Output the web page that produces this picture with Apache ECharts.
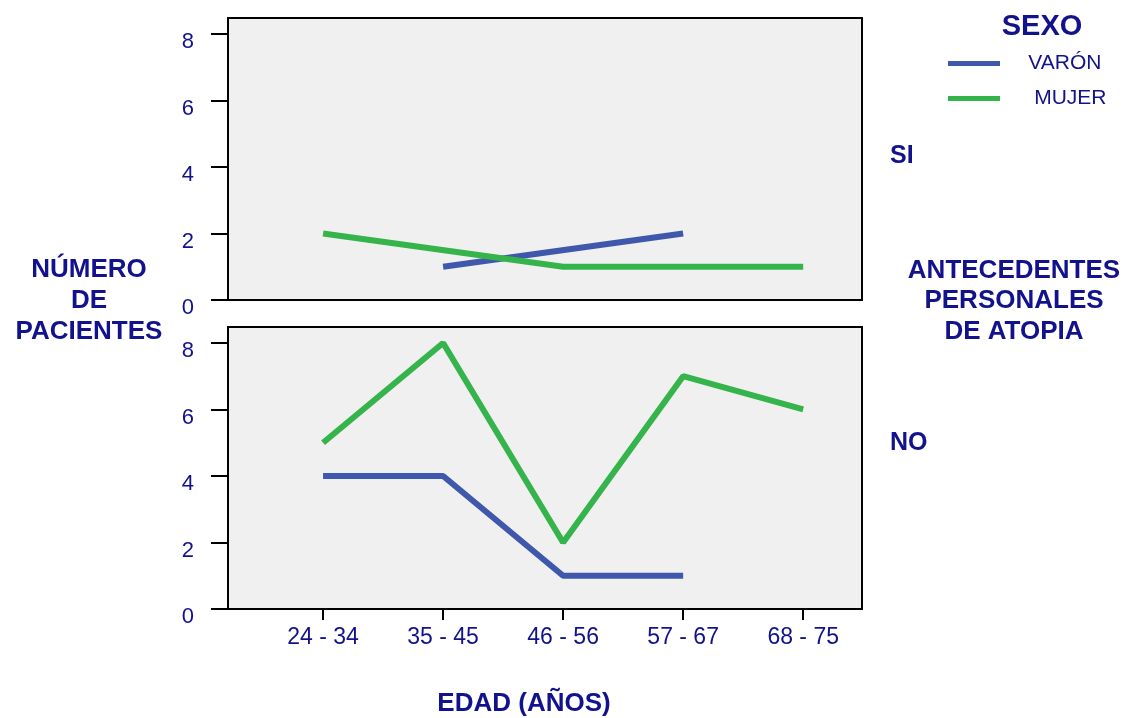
<!DOCTYPE html>
<html>
<head>
<meta charset="utf-8">
<script src="https://cdn.jsdelivr.net/npm/echarts@6/dist/echarts.min.js"></script>
<style>html,body{margin:0;padding:0;background:#fff}#c{width:1130px;height:718px}</style>
</head>
<body>
<div id="c"></div>
<script>
const categories = ['24 - 34', '35 - 45', '46 - 56', '57 - 67', '68 - 75'];
const yTicks = [0, 2, 4, 6, 8];
// Antecedentes personales de atopia = SI
const siVaron = [null, 1, null, 2, null];
const siMujer = [2, null, 1, 1, 1];
// Antecedentes personales de atopia = NO
const noVaron = [4, 4, 1, 1, null];
const noMujer = [5, 8, 2, 7, 6];

const NAVY = '#12128C';
const BLUE = '#3F58AB';
const GREEN = '#34B44A';
const FONT = '"Liberation Sans", Arial, sans-serif';

const toPts = arr => arr.map((v, i) => [i + 1, v]);
const xPositions = categories.map((c, i) => i + 1);

const chart = echarts.init(document.getElementById('c'), null, {renderer: 'canvas'});

const gridCommon = {left: 228, width: 634, height: 282, show: true, backgroundColor: '#F0F0F0', borderColor: '#000', borderWidth: 2, containLabel: false};

const yAxisCommon = {
  type: 'value', min: 0, max: 8.48,
  axisLine: {show: true, lineStyle: {color: '#000', width: 2}},
  axisTick: {show: true, inside: false, length: 17, lineStyle: {color: '#000', width: 2}, customValues: yTicks},
  axisLabel: {show: true, color: NAVY, fontSize: 22, fontFamily: FONT, margin: 34, verticalAlign: 'top', lineHeight: 16, customValues: yTicks},
  splitLine: {show: false}
};

const xAxisCommon = {
  type: 'value', min: 0.208, max: 5.49,
  splitLine: {show: false}
};

function lineSeries(name, data, color, idx) {
  return {
    name: name, type: 'line', xAxisIndex: idx, yAxisIndex: idx,
    data: toPts(data), connectNulls: true, symbol: 'none',
    lineStyle: {color: color, width: 6}, itemStyle: {color: color},
    silent: true, animation: false
  };
}

const option = {
  animation: false,
  backgroundColor: '#fff',
  grid: [
    Object.assign({top: 18}, gridCommon),
    Object.assign({top: 327}, gridCommon)
  ],
  xAxis: [
    Object.assign({gridIndex: 0, axisLine: {show: false}, axisTick: {show: false}, axisLabel: {show: false}}, xAxisCommon),
    Object.assign({gridIndex: 1,
      axisLine: {show: true, onZero: false, lineStyle: {color: '#000', width: 2}},
      axisTick: {show: true, length: 11, lineStyle: {color: '#000', width: 2}, customValues: xPositions},
      axisLabel: {show: true, color: NAVY, fontSize: 23, fontFamily: FONT, margin: 17, customValues: xPositions,
        formatter: v => categories[Math.round(v) - 1] || ''}
    }, xAxisCommon)
  ],
  yAxis: [
    Object.assign({gridIndex: 0}, yAxisCommon),
    Object.assign({gridIndex: 1}, yAxisCommon)
  ],
  legend: {
    show: true, orient: 'vertical', left: 943, top: 48,
    data: ['VARÓN', 'MUJER'], icon: 'rect', itemWidth: 52, itemHeight: 5, itemGap: 14,
    textStyle: {color: NAVY, fontSize: 21, fontFamily: FONT, lineHeight: 21},
    selectedMode: false,
    formatter: n => n === 'MUJER' ? '     ' + n : '    ' + n
  },
  series: [
    lineSeries('VARÓN', siVaron, BLUE, 0),
    lineSeries('MUJER', siMujer, GREEN, 0),
    lineSeries('VARÓN', noVaron, BLUE, 1),
    lineSeries('MUJER', noMujer, GREEN, 1)
  ],
  graphic: [
    {type: 'text', style: {text: 'SEXO', x: 1042, y: 27, textAlign: 'center', textVerticalAlign: 'middle', fill: NAVY, font: 'bold 29px ' + FONT}},
    {type: 'text', style: {text: 'NÚMERO\nDE\nPACIENTES', x: 89, y: 301, textAlign: 'center', textVerticalAlign: 'middle', lineHeight: 31, fill: NAVY, font: 'bold 26px ' + FONT}},
    {type: 'text', style: {text: 'ANTECEDENTES\nPERSONALES\nDE ATOPIA', x: 1014, y: 301, textAlign: 'center', textVerticalAlign: 'middle', lineHeight: 30.5, fill: NAVY, font: 'bold 26px ' + FONT}},
    {type: 'text', style: {text: 'SI', x: 890, y: 156, textAlign: 'left', textVerticalAlign: 'middle', fill: NAVY, font: 'bold 25px ' + FONT}},
    {type: 'text', style: {text: 'NO', x: 890, y: 443, textAlign: 'left', textVerticalAlign: 'middle', fill: NAVY, font: 'bold 25px ' + FONT}},
    {type: 'text', style: {text: 'EDAD (AÑOS)', x: 524, y: 704, textAlign: 'center', textVerticalAlign: 'middle', fill: NAVY, font: 'bold 26px ' + FONT}}
  ]
};
chart.setOption(option);
</script>
</body>
</html>
